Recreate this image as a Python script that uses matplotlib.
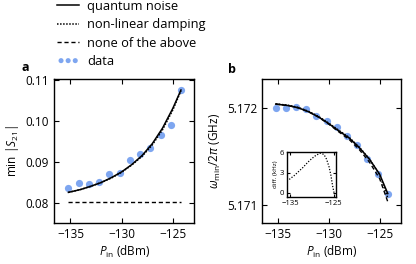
import matplotlib
matplotlib.use("Agg")
import matplotlib.pyplot as plt

plt.rcParams["font.family"] = ["Open Sans", "DejaVu Sans"]
plt.rcParams["mathtext.fontset"] = "custom"
plt.rcParams["mathtext.rm"] = "Open Sans"
plt.rcParams["mathtext.it"] = "Open Sans:italic"
plt.rcParams["font.size"] = 8.5
plt.rcParams["axes.linewidth"] = 1.0
plt.rcParams["xtick.direction"] = "in"
plt.rcParams["ytick.direction"] = "in"
plt.rcParams["xtick.top"] = True
plt.rcParams["ytick.right"] = True
plt.rcParams["xtick.major.size"] = 3.5
plt.rcParams["ytick.major.size"] = 3.5

# measured points (input power, dBm)
p_data = [-135.2, -134.2, -133.2, -132.2, -131.2, -130.2,
          -129.2, -128.2, -127.2, -126.2, -125.2, -124.2]
s21_data = [0.0835, 0.0849, 0.0845, 0.0850, 0.0870, 0.0872,
            0.0903, 0.0919, 0.0933, 0.0966, 0.0990, 0.1076]
freq_data = [5.172000, 5.172000, 5.172010, 5.171986, 5.171920, 5.171861,
             5.171804, 5.171710, 5.171617, 5.171476, 5.171321, 5.171110]

# model curves
p_fit = [-135.2, -134.0, -133.0, -132.0, -131.0, -130.0,
         -129.0, -128.0, -127.0, -126.0, -125.0, -124.2]
s21_qn = [0.0825, 0.0832, 0.0840, 0.0849, 0.0861, 0.0875,
          0.0893, 0.0915, 0.0944, 0.0982, 0.1030, 0.1075]
s21_nl = [0.0825, 0.0832, 0.0840, 0.0849, 0.0860, 0.0874,
          0.0892, 0.0913, 0.0941, 0.0978, 0.1026, 0.1073]
s21_none = [0.0802, 0.0802, 0.0802, 0.0802, 0.0802, 0.0802,
            0.0802, 0.0802, 0.0802, 0.0802, 0.0802, 0.0802]
freq_qn = [5.172040, 5.172025, 5.172002, 5.171962, 5.171907, 5.171838,
           5.171762, 5.171690, 5.171590, 5.171470, 5.171315, 5.171115]
freq_nl = [5.172042, 5.172028, 5.172005, 5.171966, 5.171912, 5.171843,
           5.171768, 5.171696, 5.171595, 5.171472, 5.171310, 5.171070]
freq_none = [5.172040, 5.172025, 5.172002, 5.171962, 5.171905, 5.171833,
             5.171752, 5.171675, 5.171570, 5.171440, 5.171270, 5.171030]

# inset: frequency difference
p_diff = [-135.2, -134.0, -133.0, -132.0, -131.0, -130.0, -129.0,
          -128.0, -127.2, -126.6, -126.0, -125.6, -125.2, -124.8]
diff_khz = [2.0, 2.6, 3.2, 3.8, 4.5, 5.1, 5.6,
            5.9, 5.7, 5.0, 3.8, 2.6, 1.0, -0.2]

blue = "#7ea6f0"
ticks_x = [-135, -130, -125]

fig = plt.figure(figsize=(4.16, 2.64), dpi=100)
ax_a = fig.add_axes([0.130, 0.155, 0.337, 0.546])
ax_b = fig.add_axes([0.631, 0.155, 0.333, 0.546])

# panel a
ax_a.scatter(p_data, s21_data, s=27, color=blue, lw=0, zorder=1, label="data")
ax_a.plot(p_fit, s21_qn, color="black", lw=1.1, zorder=3, label="quantum noise")
ax_a.plot(p_fit, s21_nl, color="black", lw=1.1, ls=(0, (1, 1)), zorder=2,
          label="non-linear damping")
ax_a.plot(p_fit, s21_none, color="black", lw=1.0, ls=(0, (3, 2)), zorder=2,
          label="none of the above")
ax_a.set_xlim(-136.6, -122.9)
ax_a.set_ylim(0.0750, 0.1102)
ax_a.set_xticks(ticks_x)
ax_a.set_xticklabels(["\u2212135", "\u2212130", "\u2212125"])
ax_a.set_yticks([0.08, 0.09, 0.10, 0.11])
ax_a.set_yticklabels(["0.08", "0.09", "0.10", "0.11"])
ax_a.set_xlabel(r"$P_{\rm in}$ (dBm)", labelpad=2)
ax_a.set_ylabel(r"min $|S_{21}|$", labelpad=3)
ax_a.text(-0.23, 1.035, "a", transform=ax_a.transAxes, fontweight="bold",
          fontsize=9, ha="left", va="bottom")

# panel b
ax_b.scatter(p_data, freq_data, s=27, color=blue, lw=0, zorder=1)
ax_b.plot(p_fit, freq_qn, color="black", lw=1.1, zorder=3)
ax_b.plot(p_fit, freq_nl, color="black", lw=1.1, ls=(0, (1, 1)), zorder=2)
ax_b.plot(p_fit, freq_none, color="black", lw=1.0, ls=(0, (3, 2)), zorder=2)
ax_b.set_xlim(-136.5, -122.9)
ax_b.set_ylim(5.17081, 5.17230)
ax_b.set_xticks(ticks_x)
ax_b.set_xticklabels(["\u2212135", "\u2212130", "\u2212125"])
ax_b.set_yticks([5.171, 5.172])
ax_b.set_yticklabels(["5.171", "5.172"])
ax_b.set_xlabel(r"$P_{\rm in}$ (dBm)", labelpad=2)
ax_b.set_ylabel(r"$\omega_{\rm min}/2\pi$ (GHz)", labelpad=3)
ax_b.text(-0.25, 1.02, "b", transform=ax_b.transAxes, fontweight="bold",
          fontsize=9, ha="left", va="bottom")

# inset
ax_in = fig.add_axes([0.689, 0.254, 0.119, 0.171])
ax_in.plot(p_diff, diff_khz, color="black", lw=0.9, ls=(0, (1, 1.3)))
ax_in.set_xlim(-135.8, -124.4)
ax_in.set_ylim(-0.6, 6.1)
ax_in.set_xticks([-135, -125])
ax_in.set_xticklabels(["\u2212135", "\u2212125"])
ax_in.set_yticks([0, 3, 6])
ax_in.tick_params(labelsize=5.5, length=2.5, pad=2)
ax_in.set_ylabel("diff. (kHz)", fontsize=4.5, labelpad=1)

handles, labels = ax_a.get_legend_handles_labels()
order = [1, 2, 3, 0]
fig.legend([handles[i] for i in order], [labels[i] for i in order],
           loc="upper left", bbox_to_anchor=(0.125, 1.02), frameon=False,
           fontsize=9.3, handlelength=1.7, handletextpad=0.6,
           labelspacing=0.42, borderaxespad=0, scatterpoints=3,
           scatteryoffsets=[0.5], markerscale=0.7)

fig.savefig("out.png", dpi=100)
